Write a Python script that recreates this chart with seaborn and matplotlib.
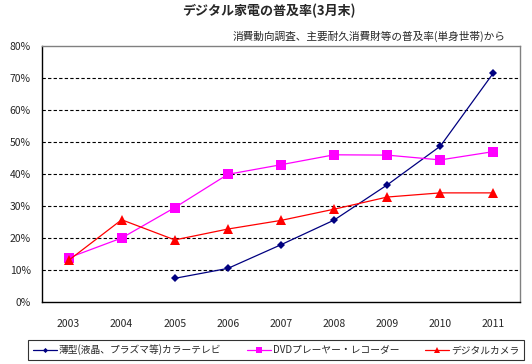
import matplotlib
matplotlib.use("Agg")
import matplotlib.pyplot as plt
import seaborn as sns
import pandas as pd
import numpy as np

years = [2003, 2004, 2005, 2006, 2007, 2008, 2009, 2010, 2011]
tv = [np.nan, np.nan, 7.4, 10.5, 17.9, 25.6, 36.6, 48.7, 71.6]
dvd = [13.8, 20.0, 29.5, 39.9, 42.9, 46.0, 45.9, 44.4, 47.0]
camera = [13.0, 25.7, 19.4, 22.8, 25.5, 29.0, 32.8, 34.1, 34.1]
series_names = ["薄型(液晶、プラズマ等)カラーテレビ", "DVDプレーヤー・レコーダー", "デジタルカメラ"]
title = "デジタル家電の普及率(3月末)"
subtitle = "消費動向調査、主要耐久消費財等の普及率(単身世帯)から"

sns.set_theme(style="white")
plt.rcParams['font.family'] = ['Noto Sans CJK JP', 'DejaVu Sans']

df = pd.DataFrame({
    "year": years * 3,
    "value": tv + dvd + camera,
    "series": [series_names[0]] * 9 + [series_names[1]] * 9 + [series_names[2]] * 9,
})

fig = plt.figure(figsize=(5.32, 3.64), dpi=100)
ax = fig.add_axes([42/532, 1-302/364, (520-42)/532, (302-46)/364])

palette = {series_names[0]: "#000080", series_names[1]: "#FF00FF", series_names[2]: "#FF0000"}
markers = {series_names[0]: "D", series_names[1]: "s", series_names[2]: "^"}
sizes_m = {series_names[0]: 4, series_names[1]: 6.5, series_names[2]: 6.5}

for name in series_names:
    sub = df[df["series"] == name].dropna()
    sns.lineplot(data=sub, x="year", y="value", ax=ax, color=palette[name],
                 marker=markers[name], markersize=sizes_m[name], markeredgewidth=0,
                 linewidth=0.9, label=name, legend=False)

ax.set_xlim(2002.5, 2011.5)
ax.set_ylim(0, 80)
ax.set_yticks(range(0, 81, 10))
ax.set_yticklabels([f"{v}%" for v in range(0, 81, 10)], fontsize=7.5)
ax.set_xticks(years)
ax.set_xticklabels([str(y) for y in years], fontsize=7.5)
ax.set_xticks([y + 0.5 for y in years[:-1]], minor=True)
ax.tick_params(axis="x", which="major", length=0, pad=12)
ax.tick_params(axis="x", which="minor", length=4, direction="in", color="black", width=0.8)
ax.tick_params(axis="y", which="major", length=0, pad=8)
ax.set_xlabel("")
ax.set_ylabel("")

for v in range(10, 80, 10):
    ax.axhline(v, color="black", linestyle=(0, (3, 2)), linewidth=0.8, zorder=0)

for s in ["left", "bottom"]:
    ax.spines[s].set_color("black")
    ax.spines[s].set_linewidth(1.0)
for s in ["top", "right"]:
    ax.spines[s].set_color("#808080")
    ax.spines[s].set_linewidth(1.0)

fig.text(269/532, 1-11/364, title, ha="center", va="center", fontsize=9.4, fontweight="bold")
fig.text(505/532, 1-36/364, subtitle, ha="right", va="center", fontsize=7.7)

handles, labels = ax.get_legend_handles_labels()
leg = fig.legend(handles, labels, loc="center", bbox_to_anchor=(276/532, 1-350/364),
                 ncol=3, fontsize=7, frameon=True, fancybox=False, edgecolor="black",
                 borderpad=0.45, handlelength=2.5, handletextpad=0.2, columnspacing=2.6,
                 markerscale=0.65, borderaxespad=0)
leg.get_frame().set_linewidth(0.8)

fig.savefig("out.png", dpi=100)
